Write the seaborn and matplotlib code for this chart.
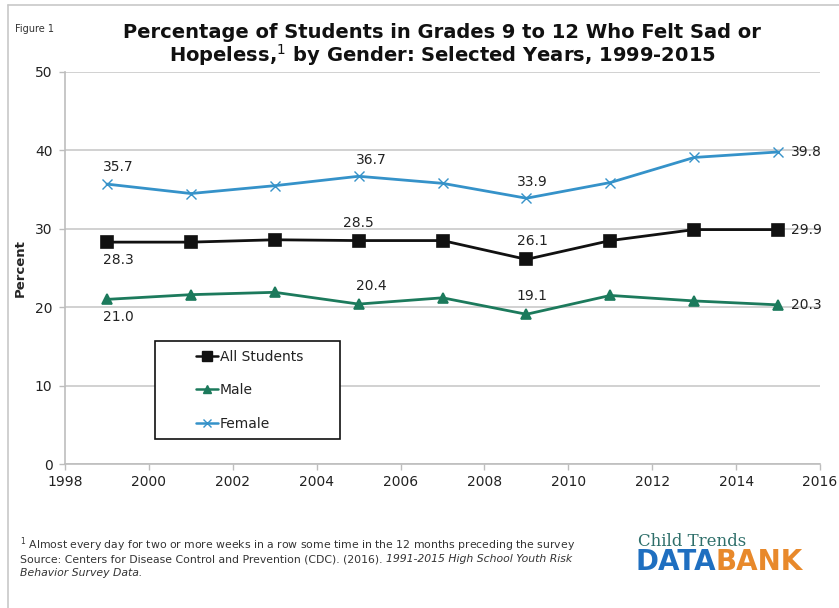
import matplotlib
matplotlib.use("Agg")
import matplotlib.pyplot as plt
import matplotlib.transforms as mtransforms
import seaborn as sns
import pandas as pd
from matplotlib.lines import Line2D
from matplotlib.patches import Rectangle

# Survey years and percentages
years = [1999, 2001, 2003, 2005, 2007, 2009, 2011, 2013, 2015]
all_students = [28.3, 28.3, 28.6, 28.5, 28.5, 26.1, 28.5, 29.9, 29.9]
male = [21.0, 21.6, 21.9, 20.4, 21.2, 19.1, 21.5, 20.8, 20.3]
female = [35.7, 34.5, 35.5, 36.7, 35.8, 33.9, 35.9, 39.1, 39.8]
series_names = ["All Students", "Male", "Female"]
x_ticks = list(range(1998, 2017, 2))
y_ticks = [0, 10, 20, 30, 40, 50]

sns.set_theme(style="white")
plt.rcParams["font.family"] = ["DejaVu Sans"]

df = pd.DataFrame({
    "Year": years * 3,
    "Percent": all_students + male + female,
    "Group": sum([[n] * len(years) for n in series_names], []),
})

colors = {"All Students": "#111111", "Male": "#1c7a5c", "Female": "#3592c9"}
markers = {"All Students": "s", "Male": "^", "Female": "x"}
msizes = {"All Students": 8, "Male": 7, "Female": 7}

fig = plt.figure(figsize=(8.39, 6.08), dpi=100)
ax = fig.add_axes([0.0775, 0.2368, 0.8999, 0.6448])

for name in series_names:
    sub = df[df["Group"] == name]
    sns.lineplot(data=sub, x="Year", y="Percent", ax=ax, color=colors[name],
                 marker=markers[name], markersize=msizes[name], linewidth=2,
                 markeredgecolor=colors[name], markeredgewidth=1.2 if name != "Female" else 1.0,
                 legend=False)

ax.set_xlim(1998, 2016)
ax.set_ylim(0, 50)
ax.set_xticks(x_ticks)
ax.set_yticks(y_ticks)
ax.set_xlabel("")
ax.set_ylabel("Percent", fontsize=9.5, fontweight="bold")
ax.yaxis.set_label_coords(27 / 839, 0.5)
ax.yaxis.label.set_transform(
    mtransforms.blended_transform_factory(fig.transFigure, ax.transAxes))
ax.yaxis.grid(True, color="#c9c9c9", linewidth=1.2)
ax.xaxis.grid(False)
for side in ["top", "right"]:
    ax.spines[side].set_visible(False)
for side in ["left", "bottom"]:
    ax.spines[side].set_color("#bdbdbd")
    ax.spines[side].set_linewidth(1.2)
ax.tick_params(axis="both", which="both", length=4, width=1, color="#bdbdbd",
               labelsize=10, labelcolor="#222222", direction="out")
ax.tick_params(axis="y", pad=5)
ax.tick_params(axis="x", pad=4)
ax.xaxis.set_ticks_position("bottom")
ax.yaxis.set_ticks_position("left")

# Value labels
def label(series, idx, dx, dy, ha="center"):
    ax.annotate(f"{series[idx]:.1f}", (years[idx], series[idx]),
                xytext=(dx, dy), textcoords="offset points",
                ha=ha, va="center", fontsize=10, color="#222222")

label(female, 0, 8, 12)
label(female, 3, 9, 12)
label(female, 5, 4, 12)
label(female, 8, 9, 0, ha="left")
label(all_students, 0, 8, -13)
label(all_students, 3, 0, 13)
label(all_students, 5, 4, 13)
label(all_students, 8, 9, 0, ha="left")
label(male, 0, 8, -13)
label(male, 3, 9, 13)
label(male, 5, 4, 13)
label(male, 8, 9, 0, ha="left")

# Legend: boxed frame with the entries set inside it
box_x0, box_x1 = (155 - 65) / 755, (340 - 65) / 755
box_y0, box_y1 = (464 - 439) / 392, (464 - 341) / 392
ax.add_patch(Rectangle((box_x0, box_y0), box_x1 - box_x0, box_y1 - box_y0,
                       transform=ax.transAxes, facecolor="white", edgecolor="#111111",
                       linewidth=1.2, zorder=5))
handles = [Line2D([0], [0], color=colors[n], marker=markers[n], markersize=msizes[n] - 1.5,
                  linewidth=1.8, markeredgecolor=colors[n]) for n in series_names]
leg = ax.legend(handles, series_names, loc="upper left",
                bbox_to_anchor=((192 - 65) / 755, (464 - 346) / 392),
                frameon=False, fontsize=10, handlelength=1.6, handletextpad=0.1,
                labelspacing=1.38, borderpad=0.3, borderaxespad=0)
leg.set_zorder(6)
for t in leg.get_texts():
    t.set_color("#222222")

# Title and caption
fig.text(0.018, 0.952, "Figure 1", fontsize=7, color="#333333", va="center")
fig.text(0.527, 0.947, "Percentage of Students in Grades 9 to 12 Who Felt Sad or",
         fontsize=14, fontweight="bold", ha="center", va="center", color="#111111")
fig.text(0.527, 0.909, "Hopeless,$^{1}$ by Gender: Selected Years, 1999-2015",
         fontsize=14, fontweight="bold", ha="center", va="center", color="#111111")

# Frame lines around the figure
fig.add_artist(Line2D([0.009, 1.0], [0.992, 0.992], color="#c8c8c8", linewidth=1.2))
fig.add_artist(Line2D([0.009, 0.009], [0.0, 0.992], color="#c8c8c8", linewidth=1.2))

# Footnote and source
fs = 7.8
fig.canvas.draw()
renderer = fig.canvas.get_renderer()
y1, y2, y3 = 1 - 545 / 608, 1 - 559 / 608, 1 - 573 / 608
fig.text(0.024, y1, "$^{1}$ Almost every day for two or more weeks in a row some time in the 12 months preceding the survey",
         fontsize=fs, color="#333333", va="center")
t1 = fig.text(0.024, y2, "Source: Centers for Disease Control and Prevention (CDC). (2016). ",
              fontsize=fs, color="#333333", va="center")
bb = t1.get_window_extent(renderer).transformed(fig.transFigure.inverted())
fig.text(bb.x1, y2, "1991-2015 High School Youth Risk", fontsize=fs, color="#333333",
         va="center", style="italic")
fig.text(0.024, y3, "Behavior Survey Data.", fontsize=fs, color="#333333",
         va="center", style="italic")

# Databank logo text
fig.text(0.760, 1 - 541 / 608, "Child Trends", fontsize=12, family="DejaVu Serif",
         color="#2e6f6a", va="center")
t2 = fig.text(0.757, 1 - 562 / 608, "DATA", fontsize=20, fontweight="bold",
              color="#1f6fc0", va="center")
bb2 = t2.get_window_extent(renderer).transformed(fig.transFigure.inverted())
fig.text(bb2.x1, 1 - 562 / 608, "BANK", fontsize=20, fontweight="bold", color="#e8892b", va="center")

fig.savefig("out.png", dpi=100, facecolor="white")
